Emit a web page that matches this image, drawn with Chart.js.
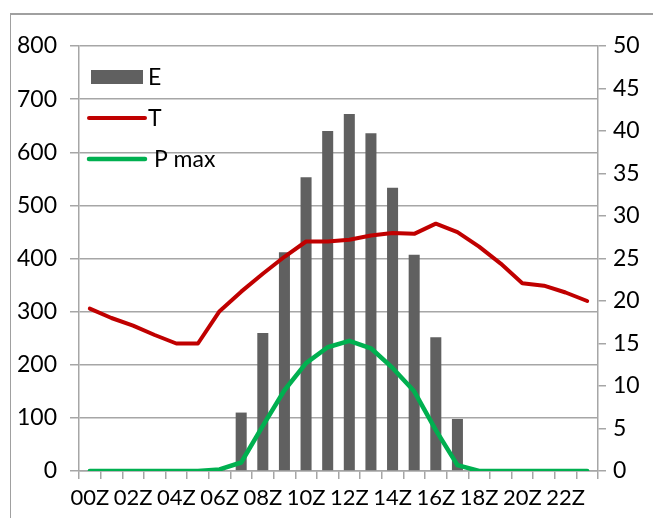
<!DOCTYPE html>
<html>
<head>
<meta charset="utf-8">
<title>E / T / P max</title>
<script src="https://cdn.jsdelivr.net/npm/chart.js@4.4.1/dist/chart.umd.min.js"></script>
<style>
  html, body { margin: 0; padding: 0; background: #fff; }
  #wrap { position: relative; width: 653px; height: 518px; overflow: hidden; }
  #frame { position: absolute; left: 10px; top: 13px; width: 700px; height: 600px;
           border-left: 1px solid #a0a0a0; border-top: 2px solid #a0a0a0; }
  #chart { position: absolute; left: 0; top: 0; }
</style>
</head>
<body>
<div id="wrap">
  <div id="frame"></div>
  <canvas id="chart" width="653" height="518"></canvas>
</div>
<script>
var hours = ['00Z', '01Z', '02Z', '03Z', '04Z', '05Z', '06Z', '07Z', '08Z', '09Z', '10Z', '11Z',
             '12Z', '13Z', '14Z', '15Z', '16Z', '17Z', '18Z', '19Z', '20Z', '21Z', '22Z', '23Z'];
var energy = [0, 0, 0, 0, 0, 0, 5, 110, 260, 412, 553, 640, 672, 636, 533, 407, 252, 98, 0, 0, 0, 0, 0, 0];
var temperature = [19.1, 18.0, 17.1, 16.0, 15.0, 15.0, 18.8, 21.1, 23.2, 25.2, 27.0, 27.0,
                   27.2, 27.7, 28.0, 27.9, 29.1, 28.1, 26.4, 24.4, 22.1, 21.8, 21.0, 20.0];
var powerMax = [0, 0, 0, 0, 0, 0, 3, 16, 85, 152, 203, 233, 245, 231, 194, 150, 77, 11, 0, 0, 0, 0, 0, 0];

var fontFamily = 'Lato, "Liberation Sans", sans-serif';
var fontSize = 23;
var gridColor = '#a6a6a6';

// legend drawn inside the plot, top left
var insideLegend = {
    id: 'insideLegend',
    afterDraw: function (chart) {
        var ctx = chart.ctx;
        var area = chart.chartArea;
        var x = area.left + 10;
        var y = area.top + 31;
        chart.data.datasets.forEach(function (ds, i) {
            var cy = y + i * 41;
            ctx.save();
            if (ds.type === 'bar') {
                ctx.fillStyle = ds.backgroundColor;
                ctx.fillRect(x + 2, cy - 7, 52, 14);
            } else {
                ctx.strokeStyle = ds.borderColor;
                ctx.lineWidth = ds.borderWidth;
                ctx.lineCap = 'round';
                ctx.beginPath();
                ctx.moveTo(x, cy);
                ctx.lineTo(x + 56, cy);
                ctx.stroke();
            }
            ctx.fillStyle = '#000';
            ctx.font = fontSize + 'px ' + fontFamily;
            ctx.textBaseline = 'middle';
            ctx.fillText(ds.label, x + 59, cy + 1);
            ctx.restore();
        });
    }
};

var ctx = document.getElementById('chart').getContext('2d');
var chart = new Chart(ctx, {
    data: {
        labels: hours,
        datasets: [{
            type: 'bar',
            label: 'E',
            data: energy,
            yAxisID: 'y',
            backgroundColor: '#606060',
            barPercentage: 0.51,
            categoryPercentage: 1.0,
            order: 3
        }, {
            type: 'line',
            label: 'T',
            data: temperature,
            yAxisID: 'y1',
            borderColor: '#c00000',
            borderWidth: 4,
            borderCapStyle: 'round',
            borderJoinStyle: 'round',
            pointRadius: 0,
            tension: 0,
            order: 2
        }, {
            type: 'line',
            label: ' P max',
            data: powerMax,
            yAxisID: 'y',
            borderColor: '#00b050',
            borderWidth: 4.5,
            borderCapStyle: 'round',
            borderJoinStyle: 'round',
            pointRadius: 0,
            tension: 0,
            order: 1
        }]
    },
    options: {
        responsive: false,
        animation: false,
        devicePixelRatio: 1,
        layout: { padding: { top: 46, left: 0, right: 0, bottom: 0 } },
        plugins: {
            legend: { display: false },
            tooltip: { enabled: false }
        },
        scales: {
            x: {
                offset: true,
                grid: {
                    offset: true,
                    drawOnChartArea: false,
                    drawTicks: true,
                    tickLength: 8,
                    color: gridColor,
                    lineWidth: 1.5
                },
                border: { display: true, color: gridColor, width: 1.5 },
                ticks: {
                    autoSkip: false,
                    maxRotation: 0,
                    padding: 6,
                    color: '#000',
                    font: { family: fontFamily, size: 22 },
                    callback: function (value, index) {
                        return index % 2 === 0 ? this.getLabelForValue(value) : '';
                    }
                },
                afterFit: function (scale) { scale.height = 47; }
            },
            y: {
                position: 'left',
                min: 0,
                max: 800,
                ticks: {
                    stepSize: 100,
                    padding: 13,
                    color: '#000',
                    font: { family: fontFamily, size: fontSize }
                },
                grid: { color: gridColor, lineWidth: 1.5, tickLength: 9 },
                border: { display: true, color: gridColor, width: 1.5 },
                afterFit: function (scale) { scale.width = 79; }
            },
            y1: {
                position: 'right',
                min: 0,
                max: 50,
                ticks: {
                    stepSize: 5,
                    padding: 7,
                    color: '#000',
                    font: { family: fontFamily, size: fontSize }
                },
                grid: { drawOnChartArea: false, color: gridColor, lineWidth: 1.5, tickLength: 8 },
                border: { display: true, color: gridColor, width: 1.5 },
                afterFit: function (scale) { scale.width = 55; }
            }
        }
    },
    plugins: [insideLegend]
});
</script>
</body>
</html>
